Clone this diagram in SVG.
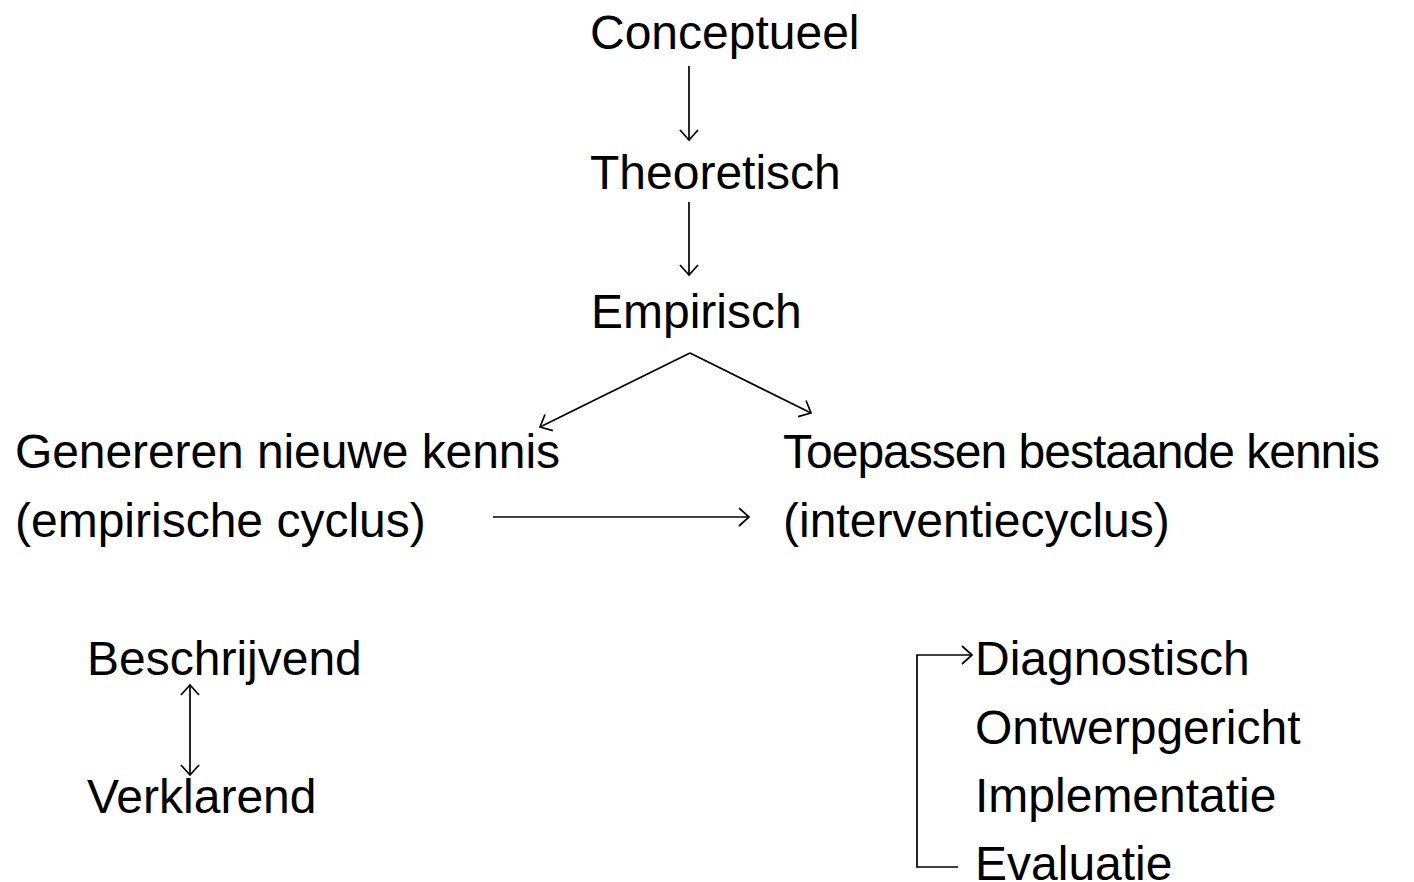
<svg xmlns="http://www.w3.org/2000/svg" width="1414" height="882" viewBox="0 0 1414 882">
<style>
text{font-family:"Liberation Sans",Arial,sans-serif;font-size:48px;fill:#000}
.c{stroke:#000;stroke-width:1.7;fill:none}
</style>
<defs>
<marker id="a" viewBox="0 0 12 20" refX="11" refY="10" markerWidth="12" markerHeight="20" markerUnits="userSpaceOnUse" orient="auto-start-reverse">
<path d="M1,1 L11,10 L1,19" fill="none" stroke="#000" stroke-width="1.7"/>
</marker>
</defs>
<rect width="1414" height="882" fill="#fff"/>
<g id="conceptueel"><text x="590" y="49">Conceptueel</text></g>
<g id="theoretisch"><text x="590" y="189">Theoretisch</text></g>
<g id="empirisch"><text x="591" y="328">Empirisch</text></g>
<g id="genereren"><text x="15" y="468" textLength="545">Genereren nieuwe kennis</text><text x="15" y="537">(empirische cyclus)</text></g>
<g id="toepassen"><text x="783" y="468" textLength="597">Toepassen bestaande kennis</text><text x="783" y="537">(interventiecyclus)</text></g>
<g id="beschrijvend"><text x="87" y="675">Beschrijvend</text></g>
<g id="verklarend"><text x="87" y="813">Verklarend</text></g>
<g id="diagnostisch"><text x="975" y="675">Diagnostisch</text></g>
<g id="ontwerpgericht"><text x="975" y="744">Ontwerpgericht</text></g>
<g id="implementatie"><text x="975" y="812">Implementatie</text></g>
<g id="evaluatie"><text x="975" y="880">Evaluatie</text></g>
<g id="connectors">
<line class="c" x1="689" y1="66" x2="689" y2="140" marker-end="url(#a)"/>
<line class="c" x1="689" y1="202" x2="689" y2="275" marker-end="url(#a)"/>
<line class="c" x1="690" y1="353" x2="540" y2="427" marker-end="url(#a)"/>
<line class="c" x1="690" y1="353" x2="811" y2="413" marker-end="url(#a)"/>
<line class="c" x1="493" y1="517" x2="749" y2="517" marker-end="url(#a)"/>
<line class="c" x1="190" y1="685" x2="190" y2="775" marker-start="url(#a)" marker-end="url(#a)"/>
<polyline class="c" points="958,867 917,867 917,655 972,655" marker-end="url(#a)"/>
</g>
</svg>
